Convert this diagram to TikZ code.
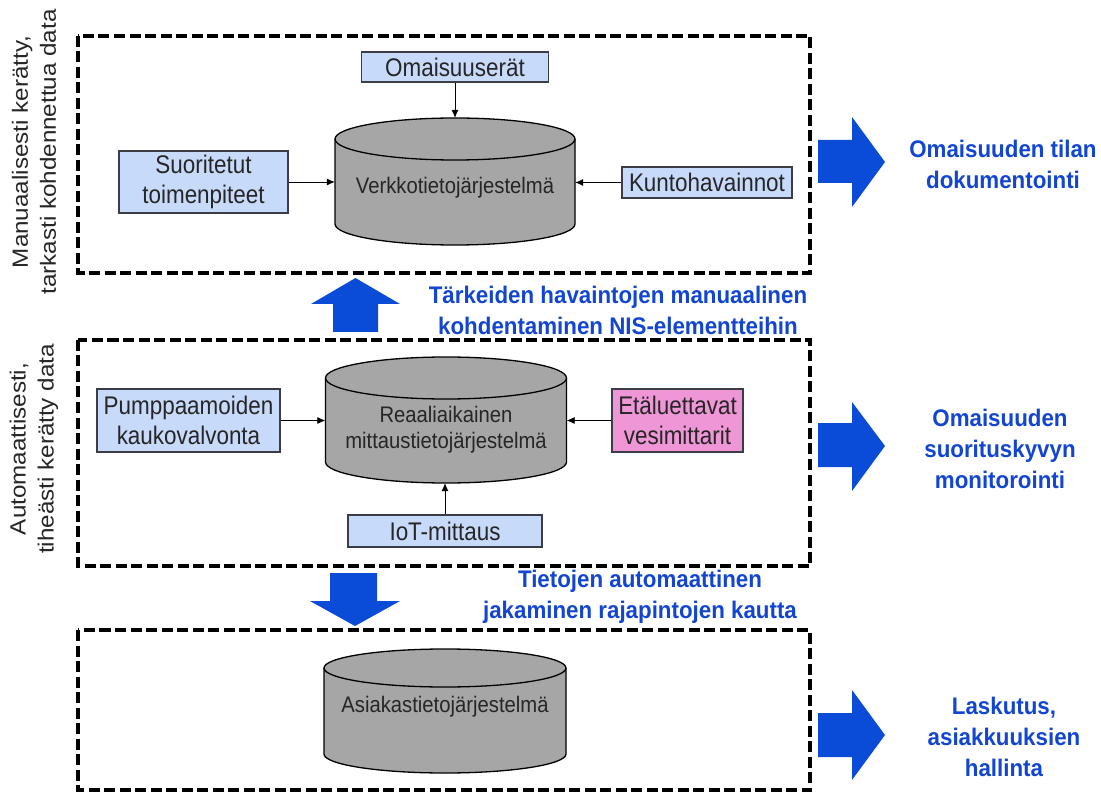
\documentclass[tikz,border=0pt]{standalone}
\usepackage{fontspec}
\setmainfont{Liberation Sans}
\newfontfamily\boxfnt[FakeStretch=0.88]{Liberation Sans}
\newfontfamily\cylfnt[FakeStretch=0.9]{Liberation Sans}
\newfontfamily\bluefnt[FakeStretch=0.93]{Liberation Sans}
\newfontfamily\sidefnt[FakeStretch=1.1]{Liberation Sans}
\usetikzlibrary{arrows.meta}
\definecolor{lblue}{RGB}{200,218,250}
\definecolor{lpink}{RGB}{238,150,214}
\definecolor{cylgray}{RGB}{166,166,166}
\definecolor{bigblue}{RGB}{10,75,215}
\definecolor{txtblue}{RGB}{18,70,210}
\definecolor{bordgray}{RGB}{60,60,70}
\tikzset{
  inbox/.style={draw=bordgray, line width=1.3pt, fill=lblue, inner sep=0pt, align=center,
     font=\boxfnt\fontsize{25.5}{30}\selectfont, text=black!85},
  pinkbox/.style={inbox, fill=lpink},
  cylbody/.style={draw=black, line width=1.3pt, fill=cylgray},
  cyltext/.style={align=center, font=\cylfnt\fontsize{22.5}{26}\selectfont, text=black!85},
  cylanchor/.style={inner sep=0pt, draw=none},
  feed/.style={draw=black, line width=0.8pt, -{Latex[length=8pt,width=7pt]}},
  group/.style={draw=black, line width=3.6pt, dash pattern=on 11pt off 4.5pt},
  bluelabel/.style={align=center, text=txtblue, font=\bluefnt\bfseries\fontsize{24}{31}\selectfont},
  sidelabel/.style={align=center, rotate=90, text=black!85, font=\sidefnt\fontsize{22}{28}\selectfont},
  bigarrow/.style={fill=bigblue, draw=none}
}
\newcommand{\dbcyl}[6]{% name, cx, top, bottom, halfwidth, ry
  \path[cylbody] ({#2-#5},{#3+#6}) -- ({#2-#5},{#4-#6})
     arc[start angle=180, end angle=0, x radius=#5, y radius=#6]
     -- ({#2+#5},{#3+#6})
     arc[start angle=0, end angle=-180, x radius=#5, y radius=#6] -- cycle;
  \draw[line width=1.3pt] ({#2-#5},{#3+#6})
     arc[start angle=180, end angle=0, x radius=#5, y radius=#6];
  \node[cylanchor, minimum width={2*#5*1pt}, minimum height={(#4-#3)*1pt}] (#1) at (#2,{(#3+#4)/2}) {};
}
\begin{document}
\begin{tikzpicture}[x=1pt,y=-1pt]
\useasboundingbox (0,0) rectangle (1101,794);
\fill[white] (0,0) rectangle (1101,794);

% group frames
\draw[group] (78,36) rectangle (810,273);
\draw[group] (78,340) rectangle (810,566);
\draw[group] (78,630) rectangle (810,790);

% side labels
\node[sidelabel] (side1) at (34,152) {Manuaalisesti kerätty,\\tarkasti kohdennettua data};
\node[sidelabel] (side2) at (34,449) {Automaattisesti,\\tiheästi kerätty data};

% top group
\dbcyl{nis}{455}{118}{245}{120}{21}
\node[cyltext] (nistext) at (455,188) {Verkkotietojärjestelmä};
\node[inbox, minimum width=187pt, minimum height=30pt] (oma) at (455,67) {Omaisuuserät};
\node[inbox, minimum width=169pt, minimum height=62pt] (suor) at (203.5,182) {Suoritetut\\toimenpiteet};
\node[inbox, minimum width=170pt, minimum height=31pt] (kunto) at (707,182.5) {Kuntohavainnot};
\draw[feed] (oma.south) -- (nis.north);
\draw[feed] (suor.east) -- (nis.west |- suor.east);
\draw[feed] (kunto.west) -- (nis.east |- kunto.west);

% middle group
\dbcyl{mit}{446}{357}{483}{120.5}{21}
\node[cyltext] (mittext) at (446,430) {Reaaliaikainen\\mittaustietojärjestelmä};
\node[inbox, minimum width=183pt, minimum height=63pt] (pump) at (188.5,420.5) {Pumppaamoiden\\kaukovalvonta};
\node[pinkbox, minimum width=131pt, minimum height=63pt] (eta) at (677.5,420.5) {Etäluettavat\\vesimittarit};
\node[inbox, minimum width=194pt, minimum height=32pt] (iot) at (445,531) {IoT-mittaus};
\draw[feed] (pump.east) -- (mit.west |- pump.east);
\draw[feed] (eta.west) -- (mit.east |- eta.west);
\draw[feed] (iot.north) -- (iot.north |- mit.south);

% bottom group
\dbcyl{asi}{445}{649}{773}{121}{19}
\node[cyltext] (asitext) at (445,707) {Asiakastietojärjestelmä};

% big arrows between groups
\path[bigarrow] (355.5,278) -- (400,304) -- (378,304) -- (378,332) -- (333,332) -- (333,304) -- (311,304) -- cycle;
\path[bigarrow] (355,626) -- (400,601) -- (377,601) -- (377,573) -- (330,573) -- (330,601) -- (310,601) -- cycle;

% big right arrows
\path[bigarrow] (885,162) -- (852,207) -- (852,183) -- (818,183) -- (818,140) -- (852,140) -- (852,117) -- cycle;
\path[bigarrow] (885,446) -- (852,491) -- (852,467) -- (818,467) -- (818,423) -- (852,423) -- (852,402) -- cycle;
\path[bigarrow] (885,735) -- (852,780) -- (852,757) -- (818,757) -- (818,713) -- (852,713) -- (852,690) -- cycle;

% blue labels
\node[bluelabel] (l1) at (618,310) {Tärkeiden havaintojen manuaalinen\\kohdentaminen NIS-elementteihin};
\node[bluelabel] (l2) at (640,597) {Tietojen automaattinen\\jakaminen rajapintojen kautta};
\node[bluelabel] (r1) at (1003,164) {Omaisuuden tilan\\dokumentointi};
\node[bluelabel] (r2) at (1000,449) {Omaisuuden\\suorituskyvyn\\monitorointi};
\node[bluelabel] (r3) at (1004,737) {Laskutus,\\asiakkuuksien\\hallinta};
\end{tikzpicture}
\end{document}
